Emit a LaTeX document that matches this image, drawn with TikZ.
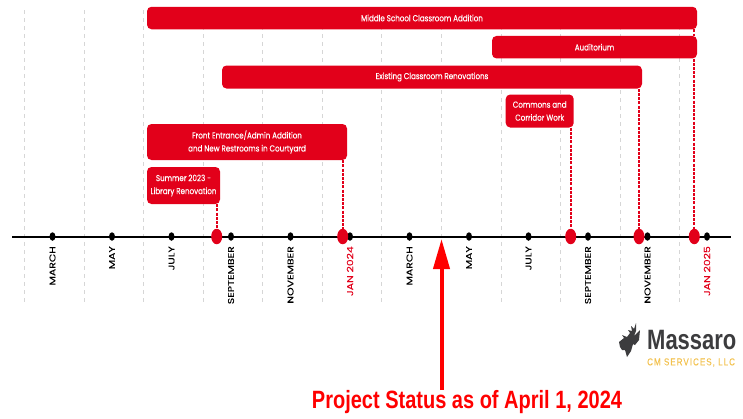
\documentclass[tikz,border=0pt]{standalone}
\usepackage{fontspec}
\setmainfont{Poppins}
\newfontfamily\barfont[FakeStretch=0.82,FakeBold=0.25]{Poppins}
\newfontfamily\monthfont[FakeStretch=1.28,FakeBold=0.05]{Poppins}
\newfontfamily\statusfont[FakeStretch=0.8]{Liberation Sans}
\newfontfamily\logofont[FakeStretch=0.785]{Liberation Sans}
\newfontfamily\servicefont[FakeStretch=0.8,LetterSpace=10.5,FakeBold=0.3]{Liberation Sans}
\usepackage{xcolor}
\usetikzlibrary{arrows.meta, positioning, shapes.geometric}
\definecolor{barred}{HTML}{E2001A}
\definecolor{gridgray}{HTML}{D6D6D6}
\definecolor{logogray}{HTML}{3C3C3E}
\definecolor{logogold}{HTML}{F2C14E}

\begin{document}
\begin{tikzpicture}[x=1pt,y=-1pt,node distance=59.5pt,on grid]
    \tikzstyle{bar}=[shape=rectangle,fill=barred,rounded corners=4.5pt,text=white,align=center,inner sep=0pt,font=\barfont\fontsize{8.7}{13}\selectfont]
    \tikzstyle{tick}=[shape=ellipse,fill=black,minimum width=6pt,minimum height=8.5pt,inner sep=0pt]
    \tikzstyle{stop}=[shape=ellipse,fill=barred,minimum width=11pt,minimum height=15.5pt,inner sep=0pt]
    \tikzstyle{month}=[rotate=90,anchor=east,inner sep=0pt,font=\monthfont\fontsize{8.5}{10}\selectfont]
    \tikzstyle{gridline}=[draw=gridgray,dash pattern=on 4pt off 4pt,line width=0.8pt]
    \tikzstyle{link}=[draw=barred,dash pattern=on 3pt off 1.2pt,line width=1.7pt]

    \useasboundingbox (0,0) rectangle (743,418);

    \path[gridline]
    (24,10) -- (24,302)
    (84,10) -- (84,302)
    (143.5,10) -- (143.5,302)
    (203,10) -- (203,302)
    (262.5,10) -- (262.5,302)
    (322.5,10) -- (322.5,302)
    (381.7,10) -- (381.7,302)
    (441.5,10) -- (441.5,302)
    (501.3,10) -- (501.3,302)
    (560.3,10) -- (560.3,302)
    (620,10) -- (620,302)
    (679.5,10) -- (679.5,302);

    \coordinate (AxisL) at (12,236.5);
    \coordinate (AxisR) at (731,236.5);
    \draw[line width=2pt] (AxisL) -- (AxisR);

    \node[tick] (T1) at (52.5,236.5) {};
    \node[tick,right of=T1] (T2) {};
    \node[tick,right of=T2] (T3) {};
    \node[tick,right of=T3] (T4) {};
    \node[tick,right of=T4] (T5) {};
    \node[tick,right of=T5] (T6) {};
    \node[tick,right of=T6] (T7) {};
    \node[tick,right of=T7] (T8) {};
    \node[tick,right of=T8] (T9) {};
    \node[tick,right of=T9] (T10) {};
    \node[tick,right of=T10] (T11) {};
    \node[tick,right of=T11] (T12) {};

    \node[month] (L1) at ([yshift=-9.5pt]T1) {MARCH};
    \node[month] (L2) at ([yshift=-9.5pt]T2) {MAY};
    \node[month] (L3) at ([yshift=-9.5pt]T3) {JULY};
    \node[month] (L4) at ([yshift=-9.5pt]T4) {SEPTEMBER};
    \node[month] (L5) at ([yshift=-9.5pt]T5) {NOVEMBER};
    \node[month,text=barred] (L6) at ([yshift=-9.5pt]T6) {JAN 2024};
    \node[month] (L7) at ([yshift=-9.5pt]T7) {MARCH};
    \node[month] (L8) at ([yshift=-9.5pt]T8) {MAY};
    \node[month] (L9) at ([yshift=-9.5pt]T9) {JULY};
    \node[month] (L10) at ([yshift=-9.5pt]T10) {SEPTEMBER};
    \node[month] (L11) at ([yshift=-9.5pt]T11) {NOVEMBER};
    \node[month,text=barred] (L12) at ([yshift=-9.5pt]T12) {JAN 2025};

    \node[stop] (R1) at (216.7,236.5) {};
    \node[stop] (R2) at (342.7,236.5) {};
    \node[stop] (R3) at (570.7,236.5) {};
    \node[stop] (R4) at (639,236.5) {};
    \node[stop] (R5) at (694.3,236.5) {};

    \node[bar,minimum width=550pt,minimum height=22.5pt] (Middle) at (422,18) {Middle School Classroom Addition};
    \node[bar,minimum width=205pt,minimum height=22.5pt] (Auditorium) at (594.5,47.2) {Auditorium};
    \node[bar,minimum width=420pt,minimum height=23pt] (Existing) at (432,77) {Existing Classroom Renovations};
    \node[bar,minimum width=200pt,minimum height=36pt] (Front) at (247,142) {Front Entrance/Admin Addition\\and New Restrooms in Courtyard};
    \node[bar,minimum width=73pt,minimum height=37pt] (Summer) at (183.5,185.5) {Summer 2023 -\\Library Renovation};
    \node[bar,minimum width=68pt,minimum height=33pt] (Commons) at (539.7,111) {Commons and\\Corridor Work};

    \path[link]
    (Summer.south -| R1) -- (R1)
    (Front.south -| R2) -- (R2)
    (Commons.south -| R3) -- (R3)
    (Existing.south -| R4) -- (R4)
    (Auditorium.south -| R5) -- (R5)
    (Middle.south -| R5) -- (Auditorium.north -| R5);

    % status arrow
    \node[text=red,inner sep=0pt,font=\statusfont\bfseries\fontsize{25}{28}\selectfont] (Status) at (467,402) {Project Status as of April 1, 2024};
    \coordinate (Today) at (441.5,239);
    \draw[-{Triangle[width=16pt,length=30pt]},red,line width=4pt] (Status.north -| Today) -- (Today);

    % logo
    \fill[logogray] (619,342) -- (624,338) -- (622,335) -- (627,337) -- (630,333) -- (628,330) -- (632,331) -- (631,326) -- (634,329) -- (636,323) -- (636,331) -- (634,336) -- (640,330) -- (639,340) -- (635,345) -- (633,344) -- (631,351) -- (627,357) -- (625,350) -- (622,350) -- (620,347) -- cycle;
    \node[text=logogray,inner sep=0pt,anchor=west,font=\logofont\bfseries\fontsize{28}{30}\selectfont] (Massaro) at (647,340) {Massaro};
    \node[text=logogold,inner sep=0pt,font=\servicefont\fontsize{10}{11}\selectfont,anchor=west] (Services) at (647,362.5) {CM SERVICES, LLC};
\end{tikzpicture}
\end{document}
